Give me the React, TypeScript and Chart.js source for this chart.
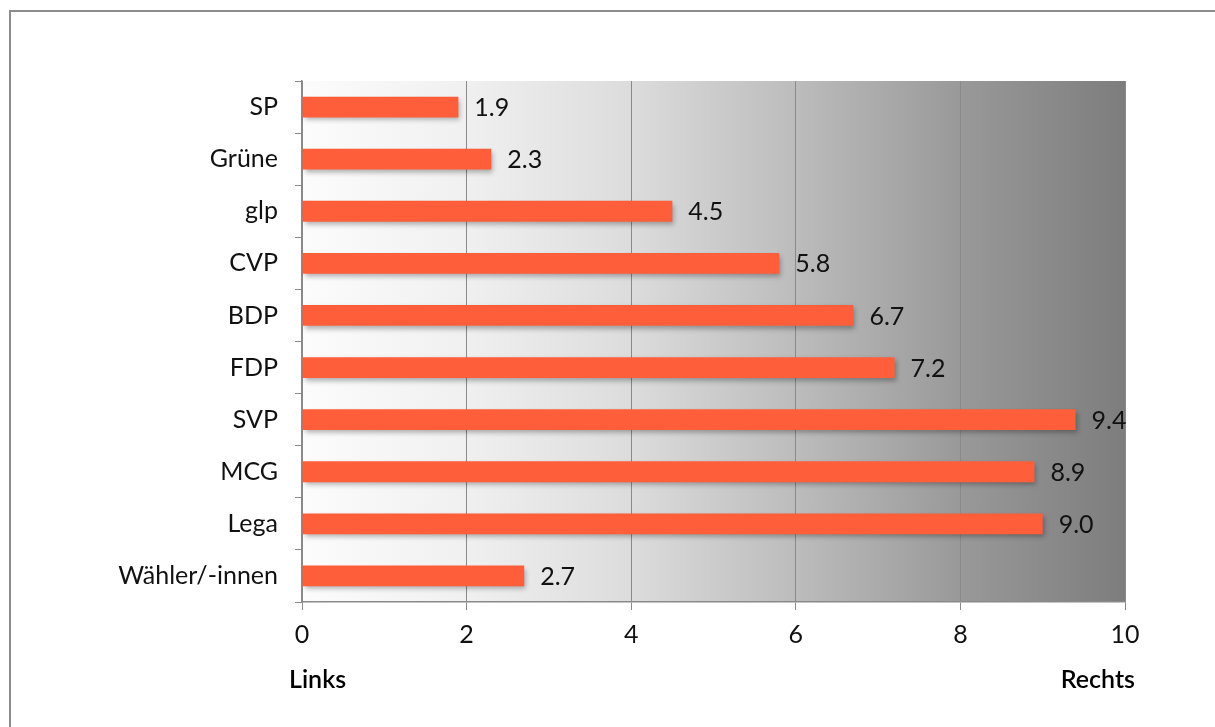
import React, { useEffect, useRef } from "react";
import { Chart, registerables } from "chart.js";

Chart.register(...registerables);

const categories = ["SP", "Grüne", "glp", "CVP", "BDP", "FDP", "SVP", "MCG", "Lega", "Wähler/-innen"];
const values = [1.9, 2.3, 4.5, 5.8, 6.7, 7.2, 9.4, 8.9, 9.0, 2.7];
const xTicks = [0, 2, 4, 6, 8, 10];
const leftLabel = "Links";
const rightLabel = "Rechts";

const FONT = "Lato, 'Open Sans', sans-serif";
const FS = 25;

export default function App() {
  const ref = useRef<HTMLCanvasElement | null>(null);
  useEffect(() => {
    if (!ref.current) return;
    const bgPlugin = {
      id: "bg",
      beforeDraw(chart: any) {
        const { ctx, chartArea: a } = chart;
        ctx.save();
        ctx.fillStyle = "#ffffff";
        ctx.fillRect(0, 0, chart.width, chart.height);
        ctx.strokeStyle = "#8c8c8c";
        ctx.lineWidth = 2;
        ctx.beginPath();
        ctx.moveTo(10, chart.height + 5);
        ctx.lineTo(10, 11);
        ctx.lineTo(chart.width + 5, 11);
        ctx.stroke();
        const g = ctx.createLinearGradient(a.left, 0, a.right, 0);
        g.addColorStop(0, "#fcfcfc");
        g.addColorStop(0.2, "#f0f0f0");
        g.addColorStop(0.4, "#dcdcdc");
        g.addColorStop(0.6, "#bcbcbc");
        g.addColorStop(0.8, "#999999");
        g.addColorStop(1, "#7d7d7d");
        ctx.fillStyle = g;
        ctx.fillRect(a.left, a.top, a.right - a.left, a.bottom - a.top);
        ctx.restore();
      },
      beforeDatasetDraw(chart: any) {
        const ctx = chart.ctx;
        ctx.save();
        ctx.shadowColor = "rgba(0,0,0,0.3)";
        ctx.shadowOffsetX = 2;
        ctx.shadowOffsetY = 3;
        ctx.shadowBlur = 5;
      },
      afterDatasetDraw(chart: any) {
        chart.ctx.restore();
      },
      afterDraw(chart: any) {
        const { ctx } = chart;
        const meta = chart.getDatasetMeta(0);
        ctx.save();
        ctx.fillStyle = "#111111";
        ctx.font = `${FS}px ${FONT}`;
        ctx.textAlign = "left";
        ctx.textBaseline = "middle";
        meta.data.forEach((bar: any, i: number) => {
          ctx.fillText(values[i].toFixed(1), bar.x + 16, bar.y + 1);
        });
        ctx.font = `600 ${FS}px ${FONT}`;
        ctx.fillStyle = "#000000";
        ctx.textBaseline = "alphabetic";
        ctx.textAlign = "left";
        ctx.fillText(leftLabel, 289, 688);
        ctx.textAlign = "right";
        ctx.fillText(rightLabel, 1135, 688);
        ctx.restore();
      },
    };
    const chart = new Chart(ref.current, {
      type: "bar",
      data: {
        labels: categories,
        datasets: [
          {
            data: values,
            backgroundColor: "#ff5e3a",
            borderWidth: 0,
            barPercentage: 0.8,
            categoryPercentage: 0.5,
          },
        ],
      },
      options: {
        indexAxis: "y",
        animation: false,
        responsive: true,
        maintainAspectRatio: false,
        layout: { padding: { left: 0, top: 81, right: 90, bottom: 0 } },
        plugins: { legend: { display: false }, tooltip: { enabled: false } },
        scales: {
          x: {
            min: 0,
            max: 10,
            afterBuildTicks(scale: any) {
              scale.ticks = xTicks.map((v) => ({ value: v }));
            },
            afterFit(scale: any) {
              scale.height = 125;
            },
            ticks: {
              color: "#111111",
              font: { family: FONT, size: FS },
              padding: 10,
            },
            grid: {
              color: "#8a8a8a",
              lineWidth: 1,
              tickLength: 8,
              drawOnChartArea: true,
            },
            border: { color: "#8a8a8a", width: 1.5 },
          },
          y: {
            afterFit(scale: any) {
              scale.width = 302;
            },
            ticks: {
              color: "#111111",
              font: { family: FONT, size: FS },
              padding: 17,
            },
            grid: {
              offset: true,
              color: "#8a8a8a",
              drawOnChartArea: false,
              tickLength: 7,
            },
            border: { color: "#8a8a8a", width: 1.5 },
          },
        },
      },
      plugins: [bgPlugin],
    });
    return () => chart.destroy();
  }, []);
  return (
    <div style={{ position: "absolute", left: 0, top: 0, width: 1215, height: 727 }}>
      <canvas ref={ref} />
    </div>
  );
}
